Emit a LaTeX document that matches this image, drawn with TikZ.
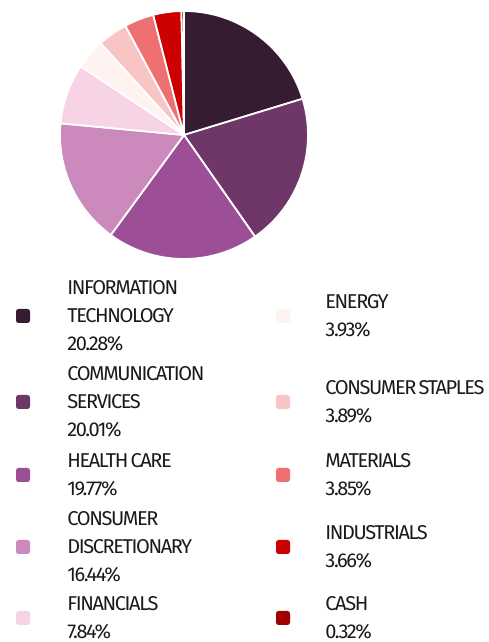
\documentclass[tikz,border=0pt]{standalone}
\usepackage{fontspec}
\setmainfont{Fira Sans}[LetterSpace=-7,WordSpace=0.55]
\usetikzlibrary{positioning}
\definecolor{itc}{HTML}{361C33}
\definecolor{comc}{HTML}{6F3768}
\definecolor{hcc}{HTML}{9C4F96}
\definecolor{cdc}{HTML}{CC89BB}
\definecolor{finc}{HTML}{F6D3E5}
\definecolor{enc}{HTML}{FFF3F1}
\definecolor{csc}{HTML}{F9C4C4}
\definecolor{matc}{HTML}{EF7070}
\definecolor{indc}{HTML}{CC0000}
\definecolor{cashc}{HTML}{A00000}
\definecolor{txt}{HTML}{1A1A1A}
\tikzset{
    slice/.style =  {draw=white,
                    line width=1.8pt,
                    line join=round},
    key/.style =    {rectangle,
                    rounded corners=2.5pt,
                    minimum size=14pt,
                    inner sep=0pt},
    label/.style =  {anchor=west,
                    align=left,
                    inner sep=0pt,
                    text=txt,
                    font=\fontsize{20}{28}\selectfont},
    node distance=37pt}

\begin{document}
\begin{tikzpicture}[x=1pt,y=1pt]
        \useasboundingbox (0,0) rectangle (489,642);
        \coordinate (O) at (184,507);
        \foreach \a/\b/\c in {90/16.992/itc, 16.992/-55.044/comc, -55.044/-126.216/hcc,
                              -126.216/-185.4/cdc, -185.4/-213.624/finc, -213.624/-227.772/enc,
                              -227.772/-241.776/csc, -241.776/-255.636/matc, -255.636/-268.812/indc,
                              -268.812/-270/cashc}
                \filldraw[slice,fill=\c] (O) -- ++(\a:124pt) arc[start angle=\a, end angle=\b, radius=124pt] -- cycle;

        \node[key,fill=itc]     (k1) at (23,326)   {};
        \node[key,fill=comc]    (k2) at (23,240)   {};
        \node[key,fill=hcc]     (k3) at (23,167)   {};
        \node[key,fill=cdc]     (k4) at (23,95)    {};
        \node[key,fill=finc]    (k5) at (23,24)    {};
        \node[key,fill=enc]     (k6) at (283,326)  {};
        \node[key,fill=csc]     (k7) at (283,240)  {};
        \node[key,fill=matc]    (k8) at (283,167)  {};
        \node[key,fill=indc]    (k9) at (283,95)   {};
        \node[key,fill=cashc]   (k10) at (283,24)  {};

        \node[label]    (l1) [right=of k1]  {INFORMATION\\TECHNOLOGY\\20.28\%};
        \node[label]    (l2) [right=of k2]  {COMMUNICATION\\SERVICES\\20.01\%};
        \node[label]    (l3) [right=of k3]  {HEALTH CARE\\19.77\%};
        \node[label]    (l4) [right=of k4]  {CONSUMER\\DISCRETIONARY\\16.44\%};
        \node[label]    (l5) [right=of k5]  {FINANCIALS\\7.84\%};
        \node[label]    (l6) [right=35pt of k6]  {ENERGY\\3.93\%};
        \node[label]    (l7) [right=35pt of k7]  {CONSUMER STAPLES\\3.89\%};
        \node[label]    (l8) [right=35pt of k8]  {MATERIALS\\3.85\%};
        \node[label]    (l9) [right=35pt of k9]  {INDUSTRIALS\\3.66\%};
        \node[label]    (l10) [right=35pt of k10] {CASH\\0.32\%};
\end{tikzpicture}
\end{document}
